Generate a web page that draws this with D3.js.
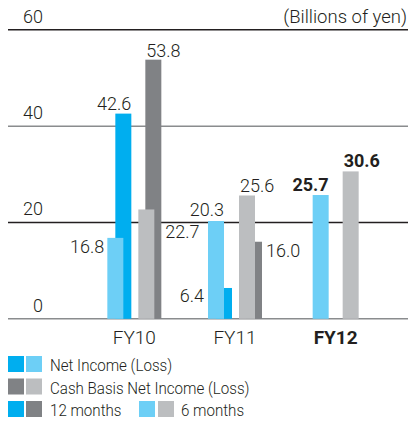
<!DOCTYPE html>
<html>
<head>
<meta charset="utf-8">
<script src="https://cdn.jsdelivr.net/npm/d3@7/dist/d3.min.js"></script>
<style>
html,body{margin:0;padding:0;background:#fff;}
svg{display:block;}
text{font-family:"Roboto","Liberation Sans",sans-serif;fill:#231f20;font-weight:300;}
</style>
</head>
<body>
<svg id="chart" width="410" height="421"></svg>
<script>
const categories = ["FY10", "FY11", "FY12"];
const netIncome12 = [42.6, 6.4, null];
const netIncome6 = [16.8, 20.3, 25.7];
const cashBasis12 = [53.8, 16.0, null];
const cashBasis6 = [22.7, 25.6, 30.6];
const yTicks = [0, 20, 40, 60];
const unitLabel = "(Billions of yen)";
const legendRows = ["Net Income (Loss)", "Cash Basis Net Income (Loss)"];
const periodLabels = ["12 months", "6 months"];

const C = {
  blue12: "#00aeef", blue6: "#6dcff6",
  gray12: "#808285", gray6: "#bcbec0",
  dark: "#231f20", mid: "#8a8c8e"
};

const svg = d3.select("#chart");
const y = d3.scaleLinear().domain([0, 60]).range([318.8, 29.8]);
const x = d3.scaleBand().domain(categories).range([84, 386]).padding(0);
const BW = 16;

// gridlines
const grid = svg.append("g");
grid.selectAll("line").data(yTicks).join("line")
  .attr("x1", 8).attr("x2", 408)
  .attr("y1", d => y(d)).attr("y2", d => y(d))
  .attr("stroke", d => (d === 20 || d === 60) ? C.dark : C.mid)
  .attr("stroke-width", 1.5);
grid.selectAll("text").data(yTicks).join("text")
  .attr("x", 43).attr("y", d => y(d) - 7)
  .attr("text-anchor", "end").attr("font-size", 18)
  .text(d => d);
svg.append("text").attr("x", 407).attr("y", y(60) - 7)
  .attr("text-anchor", "end").attr("font-size", 18.5).text(unitLabel);

// group geometry
function geo(i) {
  const c = x(categories[i]) + x.bandwidth() / 2;
  const has12 = netIncome12[i] != null;
  const w = has12 ? 54 : 46;
  const s = c - w / 2;
  return { lb: s, db: s + 8, lg: s + (has12 ? 31 : 30), dg: s + 38 };
}

const series = [
  { vals: netIncome12, key: "db", color: C.blue12 },
  { vals: cashBasis12, key: "dg", color: C.gray12 },
  { vals: netIncome6, key: "lb", color: C.blue6 },
  { vals: cashBasis6, key: "lg", color: C.gray6 }
];
const bars = svg.append("g");
series.forEach(s => {
  const data = s.vals.map((v, i) => ({ v, i })).filter(d => d.v != null);
  bars.selectAll(null).data(data).join("rect")
    .attr("x", d => geo(d.i)[s.key])
    .attr("y", d => y(d.v))
    .attr("width", BW)
    .attr("height", d => y(0) - y(d.v))
    .attr("fill", s.color);
});

// value labels
const fmt = d3.format(".1f");
const labels = [];
categories.forEach((cat, i) => {
  const g = geo(i);
  const bold = i === categories.length - 1;
  if (i === 0) {
    labels.push({ v: netIncome12[i], x: g.db + BW, dy: -4, anchor: "end" });
    labels.push({ v: cashBasis12[i], x: g.dg + 1, dy: -3, anchor: "start" });
    labels.push({ v: netIncome6[i], x: g.lb - 3, dy: 15, anchor: "end" });
    labels.push({ v: cashBasis6[i], x: g.dg + BW + 4, dy: 29, anchor: "start" });
  } else if (i === 1) {
    labels.push({ v: netIncome6[i], x: g.lb + BW, dy: -5, anchor: "end" });
    labels.push({ v: netIncome12[i], x: g.lb - 4, dy: 14, anchor: "end" });
    labels.push({ v: cashBasis6[i], x: g.lg + 1, dy: -3, anchor: "start" });
    labels.push({ v: cashBasis12[i], x: g.dg + BW + 4, dy: 15, anchor: "start" });
  } else {
    labels.push({ v: netIncome6[i], x: g.lb + BW, dy: -4, anchor: "end", bold });
    labels.push({ v: cashBasis6[i], x: g.lg + 1, dy: -4, anchor: "start", bold });
  }
});
svg.append("g").selectAll("text").data(labels).join("text")
  .attr("x", d => d.x).attr("y", d => y(d.v) + d.dy)
  .attr("text-anchor", d => d.anchor)
  .attr("font-size", 18)
  .style("font-weight", d => d.bold ? "bold" : null)
  .text(d => fmt(d.v));

// x axis labels
svg.append("g").selectAll("text").data(categories).join("text")
  .attr("x", d => x(d) + x.bandwidth() / 2)
  .attr("y", 344)
  .attr("text-anchor", "middle").attr("font-size", 19)
  .style("font-weight", (d, i) => i === categories.length - 1 ? "bold" : null)
  .text(d => d);

// legend
const lg = svg.append("g");
const rowY = [356, 378.5, 401];
const sq = (xx, yy, col) => lg.append("rect").attr("x", xx).attr("y", yy).attr("width", 16).attr("height", 16).attr("fill", col);
sq(8, rowY[0], C.blue12); sq(26, rowY[0], C.blue6);
sq(8, rowY[1], C.gray12); sq(26, rowY[1], C.gray6);
sq(8, rowY[2], C.blue12); sq(26, rowY[2], C.gray12);
sq(139, rowY[2], C.blue6); sq(158, rowY[2], C.gray6);
const ltext = (xx, yy, t) => lg.append("text")
  .attr("transform", `translate(${xx},${yy}) scale(0.89,1)`)
  .attr("font-size", 17).text(t);
legendRows.forEach((t, k) => ltext(50, rowY[k] + 15, t));
ltext(50, rowY[2] + 15, periodLabels[0]);
ltext(181, rowY[2] + 15, periodLabels[1]);
</script>
</body>
</html>
